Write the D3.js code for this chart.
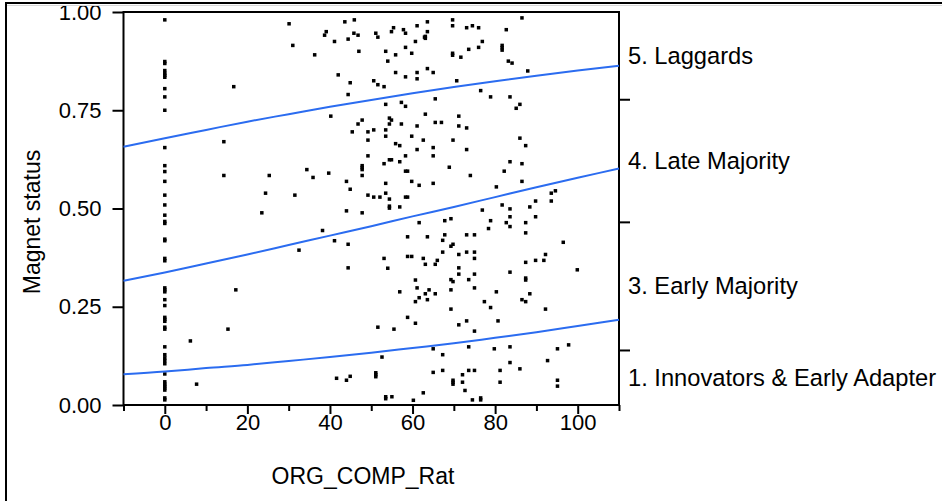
<!DOCTYPE html>
<html>
<head>
<meta charset="utf-8">
<script src="https://cdn.jsdelivr.net/npm/d3@7"></script>
<style>
  body { margin: 0; background: #fff; }
  svg { display: block; }
  text { font-family: "Liberation Sans", Arial, sans-serif; fill: #000; }
</style>
</head>
<body>
<svg id="chart" width="942" height="501"></svg>
<script>
// ---- data -------------------------------------------------------------
const xTicksMajor = [0, 20, 40, 60, 80, 100];
const xTicksMinor = [-10, 10, 30, 50, 70, 90, 110];
const yTicks = [0, 0.25, 0.5, 0.75, 1];

// cumulative probability curves of the ordinal logistic fit
const curveX = [-10, 0, 10, 20, 30, 40, 50, 60, 70, 80, 90, 100, 110];
const curveLow = [0.078, 0.085, 0.094, 0.102, 0.112, 0.122, 0.133, 0.145, 0.157, 0.171, 0.185, 0.201, 0.217];
const curveMid = [0.316, 0.337, 0.360, 0.383, 0.407, 0.431, 0.455, 0.480, 0.504, 0.529, 0.554, 0.578, 0.602];
const curveHigh = [0.657, 0.679, 0.700, 0.721, 0.740, 0.759, 0.776, 0.793, 0.809, 0.824, 0.838, 0.851, 0.863];

// response levels, their boundaries on the right axis
const levelNames = ["5. Laggards", "4. Late Majority", "3. Early Majority", "1. Innovators & Early Adapter"];
const levelBounds = [1, 0.778, 0.466, 0.140, 0];

// observations: ORG_COMP_Rat and jittered Magnet status position
const ratingZero = [0.980, 0.874, 0.869, 0.851, 0.844, 0.839, 0.834, 0.805, 0.784, 0.750,
  0.655, 0.609, 0.594, 0.569, 0.534, 0.509, 0.483, 0.467, 0.462, 0.422, 0.418, 0.373, 0.367,
  0.298, 0.293, 0.288, 0.268, 0.253, 0.223, 0.218, 0.213, 0.198, 0.193,
  0.148, 0.128, 0.120, 0.113, 0.105, 0.079, 0.059, 0.053, 0.048, 0.043, 0.038, 0.018, 0.013];

const obsRating = [
  30.1, 43.6, 45.9, 39.1, 38.7, 45.8, 46.8, 41.1, 44.4, 31.0, 47.0, 36.3, 42.0, 44.9, 16.7, 44.4,
  40.2, 46.8, 45.4, 14.3, 14.3, 25.3, 34.4, 35.9, 39.7, 44.0, 44.9, 24.4, 31.5, 23.5, 44.0, 38.2,
  41.1, 44.4, 32.5, 44.4, 17.2, 15.3, 6.2, 7.7, 41.6, 44.0, 44.9, 51.1, 51.6, 55.4, 54.9, 57.8,
  58.3, 61.1, 63.6, 63.6, 62.9, 63.1, 63.1, 60.7, 58.3, 59.8, 53.5, 55.9, 54.0, 50.6, 51.6, 53.1,
  55.9, 58.3, 61.1, 61.1, 63.6, 53.5, 57.3, 58.3, 63.1, 47.8, 49.2, 50.6, 54.4, 54.9, 54.4, 53.5,
  53.5, 57.3, 61.1, 49.2, 59.8, 62.6, 55.9, 56.9, 61.1, 49.2, 58.3, 54.4, 54.9, 53.1, 56.9, 47.8,
  47.8, 47.8, 47.8, 58.3, 58.8, 59.8, 61.6, 53.5, 49.2, 50.6, 52.1, 53.5, 54.4, 54.4, 54.4, 58.3,
  58.8, 56.9, 69.7, 69.7, 73.1, 74.5, 76.0, 82.7, 86.5, 76.9, 76.0, 73.6, 69.7, 69.7, 71.7, 81.7,
  81.7, 81.7, 83.2, 84.1, 87.9, 65.0, 70.7, 76.5, 78.9, 83.6, 86.0, 85.1, 65.5, 71.2, 65.5, 67.0,
  71.2, 73.1, 69.8, 65.0, 65.0, 73.1, 86.0, 87.4, 68.9, 74.0, 83.6, 86.5, 82.2, 65.0, 80.3, 86.5,
  93.6, 94.6, 93.6, 89.8, 88.4, 81.7, 83.6, 76.9, 47.8, 61.6, 58.8, 63.6, 53.1, 54.0, 58.8, 59.8,
  62.6, 63.1, 60.7, 61.1, 56.9, 61.6, 60.7, 63.1, 63.6, 64.0, 58.8, 60.7, 51.6, 55.5, 52.6, 51.1,
  51.1, 51.1, 53.5, 53.5, 55.0, 60.2, 62.6, 67.8, 69.3, 78.9, 78.4, 82.7, 83.6, 83.6, 87.4, 87.4,
  89.8, 67.8, 67.3, 73.1, 75.0, 69.3, 69.8, 67.3, 71.2, 73.1, 75.0, 75.0, 66.0, 65.5, 96.5, 92.2,
  89.8, 91.8, 87.4, 71.2, 71.2, 75.0, 83.6, 69.3, 69.8, 73.6, 87.4, 87.4, 75.0, 65.5, 69.3, 80.3,
  88.4, 77.4, 78.9, 86.5, 87.4, 69.3, 92.2, 71.2, 73.1, 75.0, 80.7, 65.0, 67.3, 73.6, 79.8, 83.6,
  95.1, 97.8, 92.7, 83.6, 86.0, 65.0, 67.3, 73.6, 75.0, 72.1, 81.2, 81.2, 69.8, 69.8, 69.8, 72.1,
  72.7, 95.1, 95.1, 74.5, 76.5, 76.5, 99.9
];
const obsStatus = [
  0.970, 0.975, 0.980, 0.950, 0.941, 0.946, 0.941, 0.925, 0.931, 0.915, 0.900, 0.891, 0.840, 0.820, 0.810, 0.790,
  0.735, 0.715, 0.695, 0.670, 0.584, 0.584, 0.599, 0.579, 0.590, 0.569, 0.549, 0.539, 0.534, 0.489, 0.494, 0.444,
  0.418, 0.409, 0.394, 0.349, 0.293, 0.193, 0.163, 0.053, 0.068, 0.063, 0.073, 0.946, 0.936, 0.960, 0.950, 0.955,
  0.946, 0.965, 0.975, 0.950, 0.936, 0.938, 0.933, 0.925, 0.910, 0.895, 0.900, 0.891, 0.875, 0.825, 0.815, 0.810,
  0.846, 0.835, 0.846, 0.830, 0.856, 0.765, 0.770, 0.760, 0.740, 0.725, 0.695, 0.700, 0.730, 0.725, 0.715, 0.700,
  0.684, 0.715, 0.710, 0.674, 0.684, 0.674, 0.665, 0.660, 0.650, 0.634, 0.634, 0.624, 0.624, 0.614, 0.619, 0.609,
  0.604, 0.599, 0.584, 0.595, 0.595, 0.569, 0.559, 0.564, 0.534, 0.529, 0.529, 0.539, 0.524, 0.506, 0.501, 0.529,
  0.529, 0.504, 0.980, 0.965, 0.960, 0.965, 0.960, 0.955, 0.985, 0.925, 0.910, 0.905, 0.895, 0.890, 0.885, 0.915,
  0.909, 0.903, 0.875, 0.870, 0.850, 0.846, 0.825, 0.800, 0.784, 0.784, 0.765, 0.755, 0.779, 0.735, 0.719, 0.719,
  0.710, 0.705, 0.674, 0.655, 0.634, 0.650, 0.679, 0.660, 0.605, 0.584, 0.619, 0.614, 0.595, 0.564, 0.555, 0.569,
  0.539, 0.545, 0.519, 0.519, 0.504, 0.509, 0.499, 0.496, 0.489, 0.464, 0.428, 0.428, 0.373, 0.348, 0.378, 0.378,
  0.373, 0.358, 0.318, 0.298, 0.288, 0.273, 0.263, 0.283, 0.268, 0.293, 0.223, 0.208, 0.198, 0.193, 0.122, 0.082,
  0.077, 0.072, 0.021, 0.016, 0.021, 0.012, 0.031, 0.469, 0.474, 0.469, 0.449, 0.464, 0.479, 0.454, 0.464, 0.438,
  0.479, 0.433, 0.419, 0.433, 0.433, 0.404, 0.409, 0.389, 0.383, 0.389, 0.389, 0.373, 0.368, 0.358, 0.414, 0.383,
  0.368, 0.368, 0.363, 0.349, 0.333, 0.333, 0.338, 0.319, 0.314, 0.319, 0.323, 0.318, 0.298, 0.283, 0.293, 0.288,
  0.283, 0.263, 0.248, 0.268, 0.263, 0.244, 0.244, 0.204, 0.214, 0.188, 0.214, 0.143, 0.128, 0.148, 0.143, 0.148,
  0.143, 0.153, 0.113, 0.108, 0.092, 0.083, 0.088, 0.088, 0.088, 0.077, 0.088, 0.058, 0.063, 0.058, 0.053, 0.058,
  0.037, 0.063, 0.048, 0.013, 0.018, 0.013, 0.344
];

const xTitle = "ORG_COMP_Rat";
const yTitle = "Magnet status";

// ---- drawing ----------------------------------------------------------
const svg = d3.select("#chart");
const W = 942, H = 501;
const plot = { left: 123.5, right: 619, top: 12, bottom: 405 };
const FONT = '"Liberation Sans", Arial, sans-serif';

const x = d3.scaleLinear().domain([-10, 110]).range([plot.left, plot.right]);
const y = d3.scaleLinear().domain([0, 1]).range([plot.bottom, plot.top]);

// y axis
const gy = svg.append("g").attr("transform", `translate(${plot.left},0)`)
  .call(d3.axisLeft(y).tickValues(yTicks).tickFormat(d3.format(".2f")).tickSize(11).tickPadding(11));
gy.select(".domain").remove();
gy.selectAll(".tick line").attr("stroke", "#000").attr("stroke-width", 2);
gy.selectAll(".tick text").attr("font-size", 22).attr("font-family", FONT).attr("fill", "#000");

// x axis: major with labels, minor without
const gx = svg.append("g").attr("transform", `translate(0,${plot.bottom})`)
  .call(d3.axisBottom(x).tickValues(xTicksMajor).tickSize(9).tickPadding(0));
gx.select(".domain").remove();
gx.selectAll(".tick line").attr("stroke", "#000").attr("stroke-width", 2);
gx.selectAll(".tick text").attr("font-size", 22).attr("font-family", FONT).attr("fill", "#000");

const gxm = svg.append("g").attr("transform", `translate(0,${plot.bottom})`)
  .call(d3.axisBottom(x).tickValues(xTicksMinor).tickSize(6).tickFormat(""));
gxm.select(".domain").remove();
gxm.selectAll(".tick line").attr("stroke", "#000").attr("stroke-width", 2);

// right axis: level boundaries and level names
const gr = svg.append("g").attr("transform", `translate(${plot.right},0)`)
  .call(d3.axisRight(y).tickValues(levelBounds.slice(1, -1)).tickSize(11).tickFormat(""));
gr.select(".domain").remove();
gr.selectAll(".tick line").attr("stroke", "#000").attr("stroke-width", 2);

svg.append("g").selectAll("text").data(levelNames).join("text")
  .attr("x", plot.right + 9)
  .attr("y", (d, i) => y((levelBounds[i] + levelBounds[i + 1]) / 2))
  .attr("dy", "0.36em")
  .attr("font-size", 23.7)
  .text(d => d);

// plot frame
svg.append("rect")
  .attr("x", plot.left).attr("y", plot.top)
  .attr("width", plot.right - plot.left).attr("height", plot.bottom - plot.top)
  .attr("fill", "none").attr("stroke", "#000").attr("stroke-width", 2);

// observations
const pts = ratingZero.map(v => [0, v]).concat(obsRating.map((r, i) => [r, obsStatus[i]]));
svg.append("g").selectAll("rect").data(pts).join("rect")
  .attr("x", d => x(d[0]) - 1.75)
  .attr("y", d => y(d[1]) - 1.75)
  .attr("width", 3.5).attr("height", 3.5)
  .attr("fill", "#000");

// fitted cumulative probability curves
const line = d3.line().x(d => x(d[0])).y(d => y(d[1])).curve(d3.curveMonotoneX);
[curveLow, curveMid, curveHigh].forEach(c => {
  svg.append("path")
    .datum(curveX.map((v, i) => [v, c[i]]))
    .attr("d", line)
    .attr("fill", "none")
    .attr("stroke", "#2b6cf0")
    .attr("stroke-width", 2);
});

// axis titles
svg.append("text")
  .attr("x", 363).attr("y", 484)
  .attr("text-anchor", "middle").attr("font-size", 23)
  .text(xTitle);
svg.append("text")
  .attr("transform", "translate(40,222) rotate(-90)")
  .attr("text-anchor", "middle").attr("font-size", 23)
  .text(yTitle);

// report frame
svg.append("path")
  .attr("d", `M6,${H} L6,3 L${W},3`)
  .attr("fill", "none").attr("stroke", "#000").attr("stroke-width", 2);
svg.append("line").attr("x1", 7).attr("x2", W).attr("y1", 5.5).attr("y2", 5.5)
  .attr("stroke", "#d8d8d8").attr("stroke-width", 1);
</script>
</body>
</html>
